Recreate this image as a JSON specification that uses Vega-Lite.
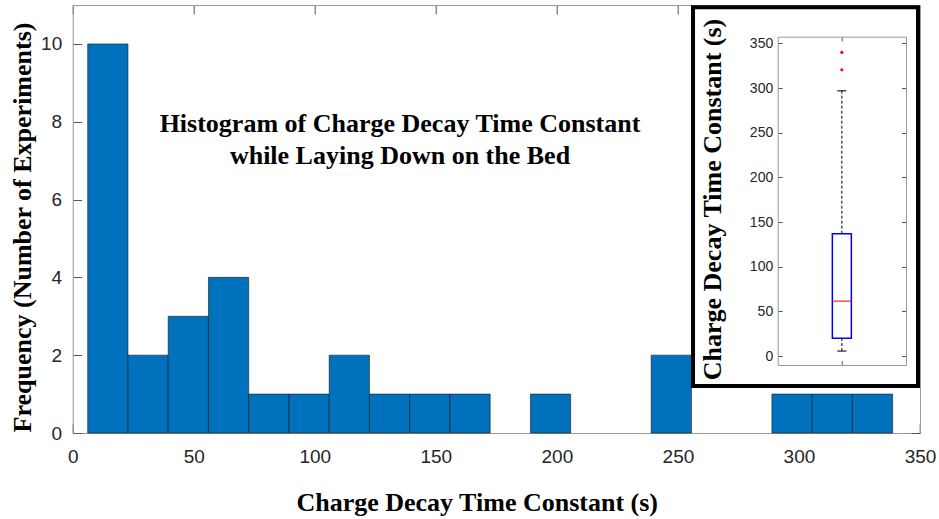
{
  "$schema": "https://vega.github.io/schema/vega-lite/v6.json",
  "background": "white",
  "autosize": {"type": "none"},
  "padding": {"left": 72.7, "top": 5, "right": 19, "bottom": 86},
  "width": 847.3,
  "height": 428,
  "datasets": {
    "hist": [
      {"bin_start": 6.2, "bin_end": 22.83, "count": 10},
      {"bin_start": 22.83, "bin_end": 39.45, "count": 2},
      {"bin_start": 39.45, "bin_end": 56.08, "count": 3},
      {"bin_start": 56.08, "bin_end": 72.7, "count": 4},
      {"bin_start": 72.7, "bin_end": 89.33, "count": 1},
      {"bin_start": 89.33, "bin_end": 105.95, "count": 1},
      {"bin_start": 105.95, "bin_end": 122.58, "count": 2},
      {"bin_start": 122.58, "bin_end": 139.2, "count": 1},
      {"bin_start": 139.2, "bin_end": 155.83, "count": 1},
      {"bin_start": 155.83, "bin_end": 172.45, "count": 1},
      {"bin_start": 189.08, "bin_end": 205.7, "count": 1},
      {"bin_start": 238.95, "bin_end": 255.58, "count": 2},
      {"bin_start": 288.83, "bin_end": 305.45, "count": 1},
      {"bin_start": 305.45, "bin_end": 322.08, "count": 1},
      {"bin_start": 322.08, "bin_end": 338.7, "count": 1}
    ],
    "box": [
      {"group": 1, "lower_whisker": 5.6, "q1": 20, "median": 61.5, "q3": 137, "upper_whisker": 297}
    ],
    "outliers": [
      {"group": 1, "value": 320.5},
      {"group": 1, "value": 340}
    ]
  },
  "config": {
    "view": {"stroke": null},
    "axis": {
      "grid": false,
      "labelFont": "Liberation Sans",
      "labelColor": "#262626",
      "titleFont": "Liberation Serif",
      "titleFontWeight": "bold",
      "titleColor": "#000000",
      "domainColor": "#999999",
      "domainWidth": 1,
      "tickColor": "#555555",
      "tickWidth": 1,
      "labelFlush": false,
      "labelOverlap": false
    }
  },
  "layer": [
    {
      "layer": [
        {
          "data": {"name": "hist"},
          "mark": {"type": "rect", "fill": "#0072BD", "stroke": "#1a1a1a", "strokeWidth": 0.6},
          "encoding": {
            "x": {
              "field": "bin_start", "type": "quantitative",
              "scale": {"domain": [0, 350], "nice": false, "zero": false},
              "axis": {
                "orient": "bottom", "values": [0, 50, 100, 150, 200, 250, 300, 350],
                "tickSize": -9, "labelPadding": 23, "labelFontSize": 19,
                "title": "Charge Decay Time Constant (s)", "titleFontSize": 26,
                "titleX": 404, "titleY": 77, "titleAlign": "center", "titleBaseline": "alphabetic", "titleAngle": 0
              }
            },
            "x2": {"field": "bin_end"},
            "y": {
              "field": "count", "type": "quantitative",
              "scale": {"domain": [0, 11], "nice": false},
              "axis": {
                "orient": "left", "values": [0, 2, 4, 6, 8, 10],
                "tickSize": -9, "labelPadding": 20, "labelFontSize": 19,
                "title": "Frequency (Number of Experiments)", "titleFontSize": 26,
                "titleX": -42, "titleY": 222, "titleAngle": -90, "titleAlign": "center", "titleBaseline": "alphabetic"
              }
            },
            "y2": {"datum": 0}
          }
        },
        {
          "data": {"values": [{}]},
          "mark": {
            "type": "text", "font": "Liberation Serif", "fontWeight": "bold", "fontSize": 26,
            "align": "center", "baseline": "alphabetic", "lineHeight": 32, "color": "#000000",
            "text": ["Histogram of Charge Decay Time Constant", "while Laying Down on the Bed"]
          },
          "encoding": {
            "x": {"datum": 135.2, "type": "quantitative",
              "axis": {"orient": "top", "values": [0, 50, 100, 150, 200, 250, 300, 350], "labels": false, "tickSize": -9, "title": null}},
            "y": {"datum": 7.74, "type": "quantitative",
              "axis": {"orient": "right", "values": [0, 2, 4, 6, 8, 10], "labels": false, "tickSize": -9, "title": null}}
          }
        }
      ],
      "resolve": {"axis": {"x": "independent", "y": "independent"}}
    },
    {
      "layer": [
        {
          "data": {"values": [{}]},
          "mark": {"type": "rect", "fill": "white", "stroke": "#000000", "strokeWidth": 4},
          "encoding": {
            "x": {"datum": -0.16, "type": "quantitative",
              "scale": {"domain": [0.5, 1.5], "range": [705, 833.3], "padding": 0, "nice": false, "zero": false}, "axis": null},
            "x2": {"datum": 1.5935},
            "y": {"datum": 390.6, "type": "quantitative",
              "scale": {"domain": [-10, 357.5], "range": [360, 31.7], "padding": 0, "nice": false, "zero": false}, "axis": null},
            "y2": {"datum": -33.6}
          }
        },
        {
          "data": {"name": "box"},
          "mark": {"type": "bar", "size": 19, "fill": "white", "stroke": "#0000FF", "strokeWidth": 1.5},
          "encoding": {
            "x": {
              "field": "group", "type": "quantitative",
              "axis": {"orient": "bottom", "offset": -68, "values": [1], "labels": false, "tickSize": -4.5, "title": null, "zindex": 1}
            },
            "y": {
              "field": "q1", "type": "quantitative",
              "axis": {
                "orient": "left", "offset": -705, "values": [0, 50, 100, 150, 200, 250, 300, 350],
                "tickSize": -4.5, "labelPadding": 9.5, "labelFontSize": 14, "zindex": 1,
                "title": "Charge Decay Time Constant (s)", "titleFontSize": 26,
                "titleX": -57, "titleY": 194, "titleAngle": -90, "titleAlign": "center", "titleBaseline": "alphabetic"
              }
            },
            "y2": {"field": "q3"}
          }
        },
        {
          "data": {"name": "box"},
          "mark": {"type": "rule", "color": "#000000", "strokeWidth": 1, "strokeDash": [3, 2]},
          "encoding": {
            "x": {"field": "group", "type": "quantitative",
              "axis": {"orient": "top", "offset": -31.7, "values": [1], "labels": false, "tickSize": -4.5, "title": null, "zindex": 1}},
            "y": {"field": "q3", "type": "quantitative",
              "axis": {"orient": "right", "offset": -14, "values": [0, 50, 100, 150, 200, 250, 300, 350], "labels": false, "tickSize": -4.5, "title": null, "zindex": 1}},
            "y2": {"field": "upper_whisker"}
          }
        },
        {
          "data": {"name": "box"},
          "mark": {"type": "rule", "color": "#000000", "strokeWidth": 1, "strokeDash": [3, 2]},
          "encoding": {
            "x": {"field": "group", "type": "quantitative", "axis": null},
            "y": {"field": "lower_whisker", "type": "quantitative", "axis": null},
            "y2": {"field": "q1"}
          }
        },
        {
          "data": {"name": "box"},
          "mark": {"type": "tick", "orient": "horizontal", "size": 9, "thickness": 1.5, "color": "#000000"},
          "encoding": {
            "x": {"field": "group", "type": "quantitative", "axis": null},
            "y": {"field": "upper_whisker", "type": "quantitative", "axis": null}
          }
        },
        {
          "data": {"name": "box"},
          "mark": {"type": "tick", "orient": "horizontal", "size": 9, "thickness": 1.5, "color": "#000000"},
          "encoding": {
            "x": {"field": "group", "type": "quantitative", "axis": null},
            "y": {"field": "lower_whisker", "type": "quantitative", "axis": null}
          }
        },
        {
          "data": {"name": "box"},
          "mark": {"type": "tick", "orient": "horizontal", "size": 19, "thickness": 1.5, "color": "#FF0000"},
          "encoding": {
            "x": {"field": "group", "type": "quantitative", "axis": null},
            "y": {"field": "median", "type": "quantitative", "axis": null}
          }
        },
        {
          "data": {"name": "outliers"},
          "mark": {"type": "point", "filled": true, "size": 10, "color": "#FF0000", "opacity": 1},
          "encoding": {
            "x": {"field": "group", "type": "quantitative", "axis": null},
            "y": {"field": "value", "type": "quantitative", "axis": null}
          }
        }
      ],
      "resolve": {"axis": {"x": "independent", "y": "independent"}}
    }
  ],
  "resolve": {
    "scale": {"x": "independent", "y": "independent"},
    "axis": {"x": "independent", "y": "independent"}
  }
}
